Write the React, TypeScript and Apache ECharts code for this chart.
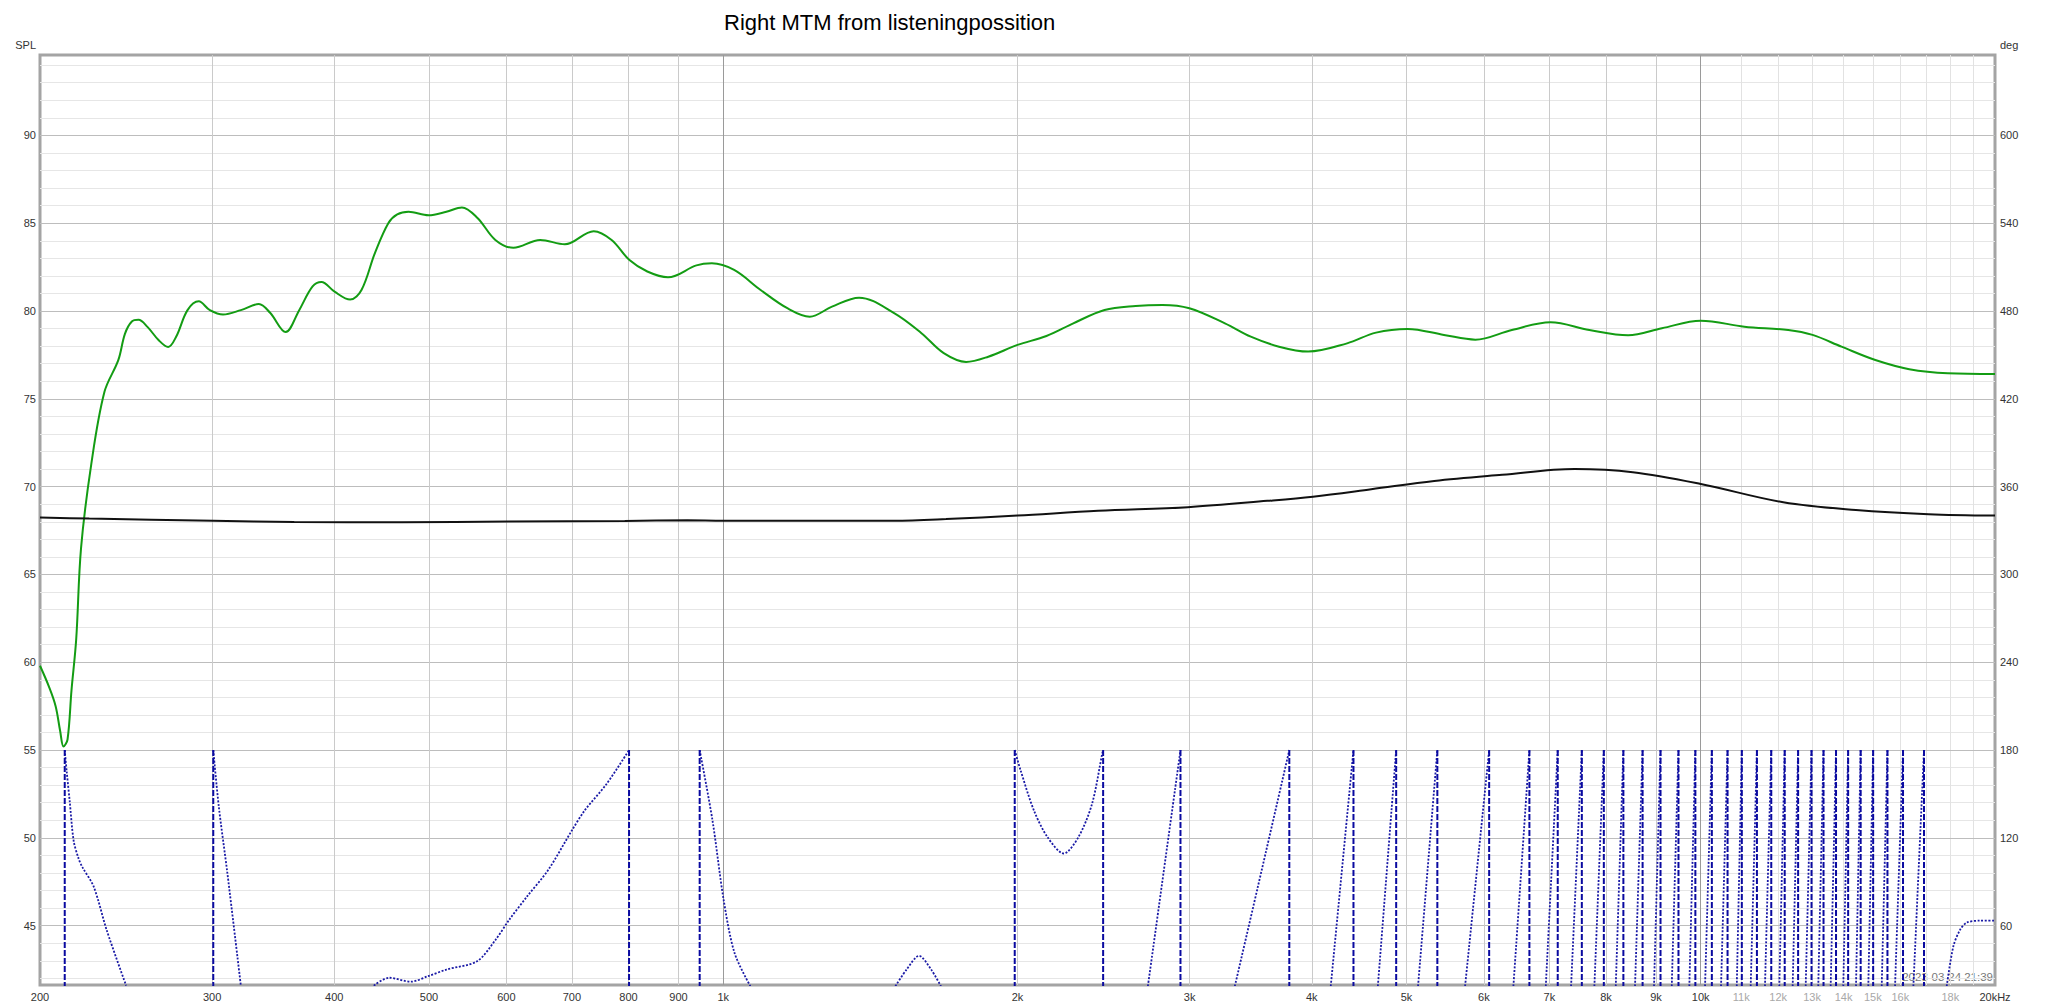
import { useEffect, useRef } from "react";
import * as echarts from "echarts";

const TITLE = "Right MTM from listeningpossition";
const TIMESTAMP = "2023-03-24 21:39";
const FONT = "'Liberation Sans', Arial, sans-serif";

// x-axis (Hz)
const FREQ_LABELS = [200, 300, 400, 500, 600, 700, 800, 900, 1000, 2000, 3000, 4000, 5000, 6000, 7000, 8000, 9000, 10000, 11000, 12000, 13000, 14000, 15000, 16000, 18000, 20000];
const FREQ_GRID_MAIN = [300, 400, 500, 600, 700, 800, 900, 2000, 3000, 4000, 5000, 6000, 7000, 8000, 9000];
const FREQ_GRID_DECADE = [1000, 10000];
const FREQ_GRID_HIGH = [11000, 12000, 13000, 14000, 15000, 16000, 17000, 18000, 19000];

// y-axes
const SPL_LABELS = [45, 50, 55, 60, 65, 70, 75, 80, 85, 90];
const SPL_MINOR = [42, 43, 44, 46, 47, 48, 49, 51, 52, 53, 54, 56, 57, 58, 59, 61, 62, 63, 64, 66, 67, 68, 69, 71, 72, 73, 74, 76, 77, 78, 79, 81, 82, 83, 84, 86, 87, 88, 89, 91, 92, 93, 94];
const DEG_LABELS = [60, 120, 180, 240, 300, 360, 420, 480, 540, 600];
const SPL_MIN = 41.62;
const SPL_MAX = 94.58;
const DEG_MIN = 19.45;
const DEG_MAX = 655.0;

// green SPL trace
const SPL_FREQ = [200, 204.3, 207.5, 209.7, 211.4, 213.4, 215.4, 217.8, 220.3, 225.7, 232.8, 240.5, 244.3, 248.3, 252.2, 257.6, 264.4, 270.5, 275.7, 283.1, 290.7, 298.4, 307.8, 321, 334.9, 343.9, 356.7, 368.3, 380.1, 388.1, 400.3, 415.2, 426.5, 440.2, 454.3, 464, 476.5, 499.4, 520.9, 540.3, 560.5, 584.6, 610, 649.8, 688.5, 737, 768.8, 801.8, 836.2, 878, 938.8, 973.5, 1026, 1092, 1163, 1226, 1292, 1377, 1497, 1595, 1681, 1772, 1867, 2000, 2141, 2281, 2455, 2642, 2814, 2998, 3260, 3465, 3703, 3966, 4347, 4654, 5013, 5461, 5880, 6408, 7020, 7692, 8427, 9126, 10000, 11082, 12288, 13013, 13931, 15087, 16343, 17898, 20000];
const SPL_DB = [59.8, 58.6, 57.5, 56.1, 55.2, 55.6, 58.4, 61.3, 66.5, 71.3, 75.4, 77.2, 78.7, 79.4, 79.5, 79.1, 78.35, 77.95, 78.55, 80.05, 80.55, 80.05, 79.8, 80.05, 80.4, 79.9, 78.8, 80.05, 81.4, 81.65, 81.1, 80.65, 81.2, 83.3, 85.0, 85.5, 85.65, 85.45, 85.65, 85.9, 85.3, 84.05, 83.6, 84.05, 83.8, 84.55, 84.05, 82.9, 82.25, 81.92, 82.6, 82.72, 82.34, 81.2, 80.16, 79.68, 80.25, 80.76, 79.87, 78.74, 77.6, 77.1, 77.4, 78.07, 78.58, 79.3, 80.06, 80.29, 80.35, 80.16, 79.3, 78.54, 77.97, 77.69, 78.16, 78.77, 78.98, 78.64, 78.37, 78.92, 79.36, 78.92, 78.62, 79.02, 79.45, 79.11, 78.92, 78.64, 77.97, 77.21, 76.69, 76.46, 76.42];

// black trace
const REF_FREQ = [200, 224.6, 300.8, 364, 469, 603, 793, 919, 1000, 1494, 1690, 2000, 2418, 2988, 3602, 4011, 4602, 5338, 6263, 7432, 8521, 10000, 12145, 14412, 17106, 20000];
const REF_DB = [68.24, 68.18, 68.06, 67.99, 67.97, 68.01, 68.05, 68.08, 68.06, 68.06, 68.15, 68.35, 68.62, 68.83, 69.19, 69.43, 69.85, 70.32, 70.67, 71.0, 70.82, 70.15, 69.11, 68.67, 68.43, 68.35];

// phase (deg), visible pieces
const PHASE_SEGMENTS: number[][][] = [
  [[212, 180], [213, 165], [214.5, 145], [216.5, 118], [219, 106], [221, 100], [227, 86.6], [234, 57], [245, 19]],
  [[300.8, 180], [304.8, 141], [311, 95.7], [321, 19]],
  [[439, 19], [455, 24.4], [479, 21.7], [499, 25.5], [521, 30], [560, 35.7], [585, 50.4], [604, 64], [630, 80], [662, 98], [700, 125], [722, 139], [760, 157], [801, 180]],
  [[946, 180], [975, 131.9], [1001, 77.5], [1027, 41.3], [1066, 18.6]],
  [[1500, 18.6], [1540, 30], [1586, 39.4], [1632, 30], [1670, 18.6]],
  [[1987, 180], [2014, 166.4], [2079, 138.7], [2146, 120.6], [2230, 109.3], [2309, 120.6], [2384, 143.3], [2442, 177.7], [2447, 180]],
  [[2719, 18.6], [2936, 180]],
  [[3337, 18.6], [3555, 97.9], [3794, 180]],
  [[4183, 18.6], [4413, 180]],
  [[4674, 18.6], [4880, 180]],
  [[5138, 18.6], [5377, 180]],
  [[5740, 18.6], [6075, 180]],
  [[6432, 18.6], [6679, 180]],
  [[6942, 18.6], [7140, 180]],
  [[7368, 18.6], [7557, 180]],
  [[7784, 18.6], [7959, 180]],
  [[8186, 18.6], [8334, 180]],
  [[8566, 18.6], [8720, 180]],
  [[8958, 18.6], [9096, 180]],
  [[9340, 18.6], [9489, 180]],
  [[9735, 18.6], [9874, 180]],
  [[10102, 18.6], [10265, 180]],
  [[10490, 18.6], [10652, 180]],
  [[10886, 18.6], [11016, 180]],
  [[11249, 18.6], [11415, 180]],
  [[11634, 18.6], [11807, 180]],
  [[12033, 18.6], [12187, 180]],
  [[12418, 18.6], [12578, 180]],
  [[12805, 18.6], [12982, 180]],
  [[13190, 18.6], [13354, 180]],
  [[13581, 18.6], [13753, 180]],
  [[13991, 18.6], [14151, 180]],
  [[14416, 18.6], [14575, 180]],
  [[14840, 18.6], [15010, 180]],
  [[15316, 18.6], [15524, 180]],
  [[15805, 18.6], [16104, 180]],
  [[16502, 18.6], [16920, 180]],
  [[17850, 18.6], [18130, 45.8], [18420, 57.1], [18714, 62.1], [19300, 63.4], [20000, 63.4]],
];
const WRAP_FREQS = [212, 300.8, 801, 946, 1987, 2447, 2936, 3794, 4413, 4880, 5377, 6075, 6679, 7140, 7557, 7959, 8334, 8720, 9096, 9489, 9874, 10265, 10652, 11016, 11415, 11807, 12187, 12578, 12982, 13354, 13753, 14151, 14575, 15010, 15524, 16104, 16920];

function fmtFreq(v: number): string {
  if (v >= 20000) return "20kHz";
  if (v >= 1000) return Math.round(v / 1000) + "k";
  return String(Math.round(v));
}

function gridXAxis(values: number[], color: string, z: number) {
  return {
    type: "log",
    logBase: 10,
    min: 200,
    max: 20000,
    position: "bottom",
    gridIndex: 0,
    z,
    axisLine: { show: false },
    axisTick: { show: false, customValues: values },
    axisLabel: { show: false },
    splitLine: { show: true, lineStyle: { color, width: 1 } },
    minorSplitLine: { show: false },
  };
}

export default function App() {
  const ref = useRef<HTMLDivElement>(null);
  useEffect(() => {
    const chart = echarts.init(ref.current!, null, { renderer: "svg" });

    const splData = SPL_FREQ.map((f, i) => [f, SPL_DB[i]]);
    const refData = REF_FREQ.map((f, i) => [f, REF_DB[i]]);
    const phaseData: any[] = [];
    PHASE_SEGMENTS.forEach((seg) => {
      seg.forEach((p) => phaseData.push([p[0], p[1]]));
      phaseData.push([seg[seg.length - 1][0], "-"]);
    });
    const wrapData: any[] = [];
    WRAP_FREQS.forEach((f) => {
      wrapData.push([f, 180]);
      wrapData.push([f, -180]);
      wrapData.push([f, "-"]);
    });

    const option: any = {
      animation: false,
      backgroundColor: "#ffffff",
      textStyle: { fontFamily: FONT },
      title: {
        text: TITLE,
        left: 724,
        top: 11,
        padding: 0,
        textStyle: { fontSize: 22, fontWeight: "normal", color: "#000", fontFamily: FONT },
      },
      grid: {
        left: 40,
        right: 53,
        top: 55,
        bottom: 23,
        show: true,
        borderColor: "#a4a4a4",
        borderWidth: 3,
        backgroundColor: "#ffffff",
      },
      graphic: [
        {
          type: "text",
          right: 55,
          top: 971,
          z: 0,
          style: { text: TIMESTAMP, fontSize: 11.5, fill: "#777", fontFamily: FONT },
        },
      ],
      xAxis: [
        {
          type: "log",
          logBase: 10,
          min: 200,
          max: 20000,
          position: "bottom",
          gridIndex: 0,
          z: 3,
          axisLine: { show: false },
          axisTick: { show: false, customValues: FREQ_GRID_MAIN },
          axisLabel: {
            show: true,
            customValues: FREQ_LABELS,
            formatter: (v: number) => fmtFreq(v),
            fontSize: 11,
            margin: 6,
            fontFamily: FONT,
            showMinLabel: true,
            showMaxLabel: true,
            color: (v: any) => {
              const n = Number(v);
              return n > 10500 && n < 19000 ? "#a8a8a8" : "#333";
            },
          },
          splitLine: { show: true, lineStyle: { color: "#cacaca", width: 1 } },
          minorSplitLine: { show: false },
        },
        gridXAxis(FREQ_GRID_DECADE, "#9a9a9a", 4),
        gridXAxis(FREQ_GRID_HIGH, "#e2e2e2", 2),
      ],
      yAxis: [
        {
          type: "value",
          position: "left",
          min: SPL_MIN,
          max: SPL_MAX,
          z: 3,
          name: "SPL",
          nameLocation: "end",
          nameGap: 5,
          nameTextStyle: { fontSize: 11, color: "#333", align: "right", verticalAlign: "bottom", padding: [0, 4, 0, 0], fontFamily: FONT },
          axisLine: { show: false },
          axisTick: { show: false, customValues: SPL_LABELS },
          axisLabel: { customValues: SPL_LABELS, fontSize: 11, color: "#333", margin: 4, fontFamily: FONT },
          splitLine: { show: true, lineStyle: { color: "#bdbdbd", width: 1 } },
        },
        {
          type: "value",
          position: "right",
          min: DEG_MIN,
          max: DEG_MAX,
          z: 3,
          name: "deg",
          nameLocation: "end",
          nameGap: 5,
          nameTextStyle: { fontSize: 11, color: "#333", align: "left", verticalAlign: "bottom", padding: [0, 0, 0, 5], fontFamily: FONT },
          axisLine: { show: false },
          axisTick: { show: false, customValues: DEG_LABELS },
          axisLabel: { customValues: DEG_LABELS, fontSize: 11, color: "#333", margin: 5, fontFamily: FONT },
          splitLine: { show: false },
        },
        {
          type: "value",
          position: "left",
          min: SPL_MIN,
          max: SPL_MAX,
          z: 1,
          axisLine: { show: false },
          axisTick: { show: false, customValues: SPL_MINOR },
          axisLabel: { show: false },
          splitLine: { show: true, lineStyle: { color: "#e6e6e6", width: 1 } },
        },
      ],
      series: [
        {
          name: "SPL",
          type: "line",
          xAxisIndex: 0,
          yAxisIndex: 0,
          data: splData,
          showSymbol: false,
          symbol: "none",
          smooth: 0.35,
          z: 5,
          lineStyle: { color: "#139c13", width: 2 },
        },
        {
          name: "Reference",
          type: "line",
          xAxisIndex: 0,
          yAxisIndex: 0,
          data: refData,
          showSymbol: false,
          symbol: "none",
          smooth: 0.35,
          z: 5,
          lineStyle: { color: "#111111", width: 2 },
        },
        {
          name: "Phase",
          type: "line",
          xAxisIndex: 0,
          yAxisIndex: 1,
          data: phaseData,
          showSymbol: false,
          symbol: "none",
          smooth: 0.3,
          connectNulls: false,
          clip: true,
          z: 6,
          lineStyle: { color: "#1a1aa6", width: 1.8, type: [2, 1.6] },
        },
        {
          name: "Phase wrap",
          type: "line",
          xAxisIndex: 0,
          yAxisIndex: 1,
          data: wrapData,
          showSymbol: false,
          symbol: "none",
          connectNulls: false,
          clip: true,
          z: 6,
          lineStyle: { color: "#0a0aa0", width: 2, type: [6, 2] },
        },
      ],
    };

    chart.setOption(option);
    return () => chart.dispose();
  }, []);

  return (
    <div
      ref={ref}
      style={{ position: "absolute", left: 0, top: 0, width: 2048, height: 1008, background: "#fff" }}
    />
  );
}
